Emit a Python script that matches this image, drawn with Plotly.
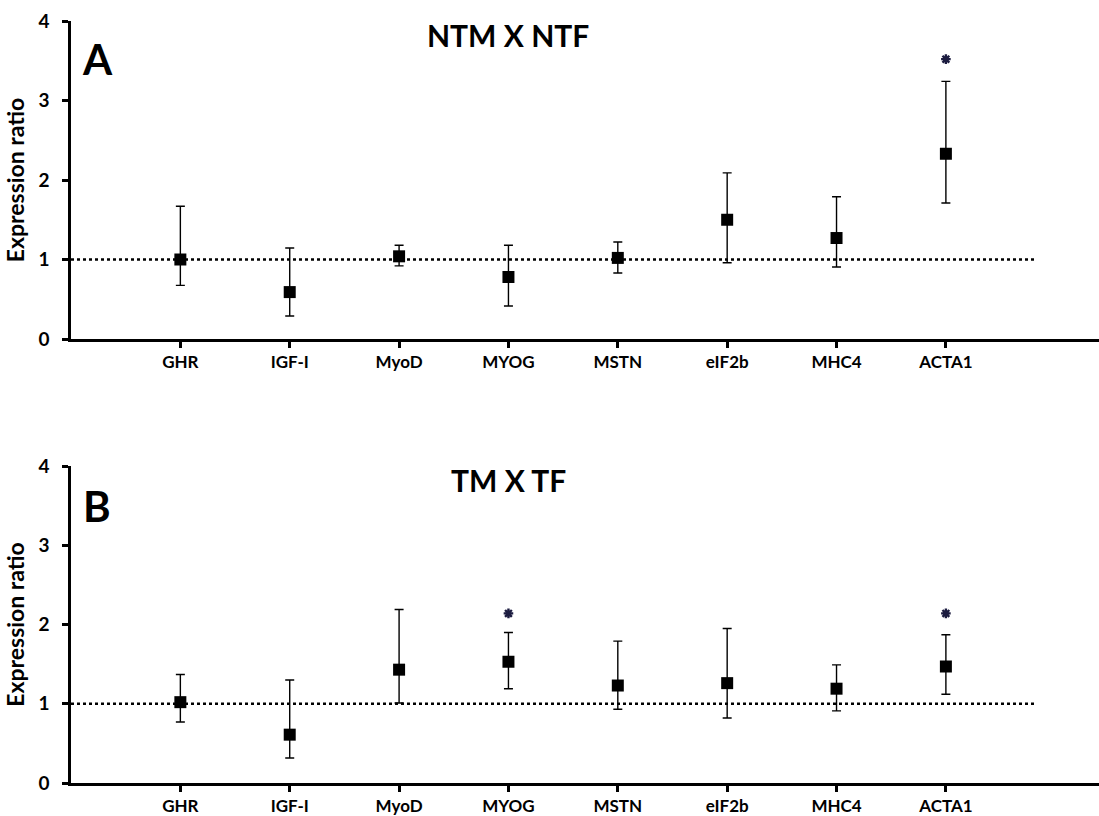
import plotly.graph_objects as go

genes = ["GHR", "IGF-I", "MyoD", "MYOG", "MSTN", "eIF2b", "MHC4", "ACTA1"]

# Panel A: NTM X NTF
a_ratio = [1.00, 0.59, 1.04, 0.78, 1.02, 1.50, 1.27, 2.33]
a_upper = [1.67, 1.145, 1.18, 1.18, 1.22, 2.09, 1.79, 3.24]
a_lower = [0.675, 0.29, 0.92, 0.415, 0.83, 0.96, 0.905, 1.71]
a_sig = ["ACTA1"]
a_sig_y = [3.52]

# Panel B: TM X TF
b_ratio = [1.02, 0.61, 1.43, 1.53, 1.23, 1.26, 1.19, 1.47]
b_upper = [1.37, 1.30, 2.19, 1.90, 1.79, 1.95, 1.49, 1.87]
b_lower = [0.77, 0.315, 1.01, 1.19, 0.93, 0.82, 0.91, 1.12]
b_sig = ["MYOG", "ACTA1"]
b_sig_y = [2.14, 2.14]

y_ticks = [0, 1, 2, 3, 4]
ref_level = 1

FONT = "Lato"
W, H = 1099, 816

fig = go.Figure()
idx = {g: i for i, g in enumerate(genes)}

panels = [
    ("x", "y", a_ratio, a_upper, a_lower, a_sig, a_sig_y),
    ("x2", "y2", b_ratio, b_upper, b_lower, b_sig, b_sig_y),
]
for xa, ya, r, up, lo, sig, sigy in panels:
    xs = list(range(len(genes)))
    fig.add_trace(go.Scatter(
        x=xs, y=r, xaxis=xa, yaxis=ya, mode="markers",
        marker=dict(symbol="square", size=12, color="black"),
        error_y=dict(type="data", symmetric=False,
                     array=[u - v for u, v in zip(up, r)],
                     arrayminus=[v - l for v, l in zip(r, lo)],
                     color="black", thickness=1.4, width=4.5),
        showlegend=False, hoverinfo="skip"))
    fig.add_trace(go.Scatter(
        x=[idx[g] for g in sig], y=sigy, xaxis=xa, yaxis=ya, mode="markers",
        marker=dict(symbol="asterisk-open", size=8, color="#1c1c40",
                    line=dict(color="#1c1c40", width=2.4)),
        showlegend=False, hoverinfo="skip"))
    fig.add_shape(type="line", xref=xa, yref=ya, x0=-1, x1=7.83,
                  y0=ref_level, y1=ref_level,
                  line=dict(color="black", width=2.5, dash="dot"), layer="below")

xdom = [71 / W, 1.0]
ydomA = [(H - 339) / H, (H - 21) / H]
ydomB = [(H - 783) / H, (H - 466) / H]

xcommon = dict(
    range=[-1, 8.4], tickmode="array", tickvals=list(range(len(genes))),
    ticktext=["<b>%s</b>" % g for g in genes], showline=True, linecolor="black", linewidth=2.5,
    ticks="outside", ticklen=6, tickwidth=2.5, tickcolor="black",
    showgrid=False, zeroline=False, domain=xdom, automargin=False,
    ticklabelstandoff=0,
    tickfont=dict(family=FONT, size=17, color="black"),
)
ycommon = dict(
    range=[0, 4], tickmode="array", tickvals=y_ticks,
    ticktext=["<b>%d</b>" % v for v in y_ticks],
    showline=True, linecolor="black", linewidth=2.5,
    ticks="outside", ticklen=6, tickwidth=2.5, tickcolor="black",
    showgrid=False, zeroline=False, automargin=False,
    ticklabelstandoff=9,
    tickfont=dict(family=FONT, size=19, color="black"),
    title=dict(text="<b>Expression ratio</b>", standoff=8,
               font=dict(family=FONT, size=23, color="black")),
)

ann_font_big = dict(family=FONT, size=42, color="black")
ann_font_title = dict(family=FONT, size=30, color="black")

fig.update_layout(
    width=W, height=H,
    margin=dict(l=0, r=0, t=0, b=0),
    paper_bgcolor="white", plot_bgcolor="white",
    xaxis=dict(**xcommon, anchor="y"),
    xaxis2=dict(**xcommon, anchor="y2"),
    yaxis=dict(**ycommon, domain=ydomA, anchor="x"),
    yaxis2=dict(**ycommon, domain=ydomB, anchor="x2"),
    annotations=[
        dict(text="<b>A</b>", x=97 / W, y=(H - 59) / H, xref="paper", yref="paper",
             xanchor="center", yanchor="middle", showarrow=False, font=ann_font_big),
        dict(text="<b>NTM X NTF</b>", x=508 / W, y=(H - 35) / H, xref="paper", yref="paper",
             xanchor="center", yanchor="middle", showarrow=False, font=ann_font_title),
        dict(text="<b>B</b>", x=97 / W, y=(H - 506) / H, xref="paper", yref="paper",
             xanchor="center", yanchor="middle", showarrow=False, font=ann_font_big),
        dict(text="<b>TM X TF</b>", x=508 / W, y=(H - 480) / H, xref="paper", yref="paper",
             xanchor="center", yanchor="middle", showarrow=False, font=ann_font_title),
    ],
)

fig.write_html("out.html", config={"displayModeBar": False},
               post_script="document.body.style.margin='0';document.body.style.overflow='hidden';")
